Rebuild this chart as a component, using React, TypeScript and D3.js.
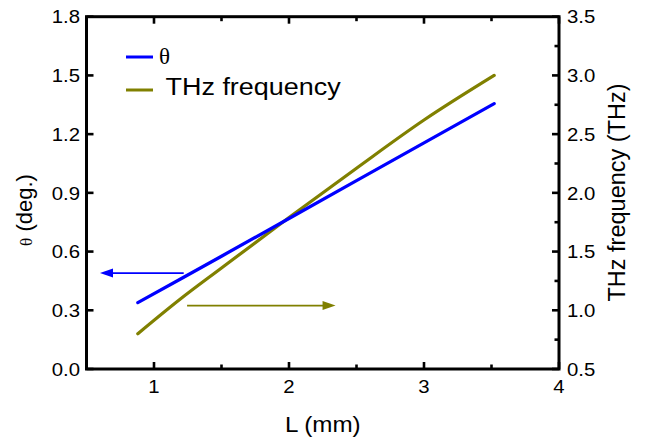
import React from "react";
import * as d3 from "d3";

const L = [0.88, 1.2, 1.5, 2.0, 2.5, 3.0, 3.52];
const theta = [0.339, 0.461, 0.576, 0.769, 0.962, 1.155, 1.356];
const freq = [0.8, 1.1, 1.36, 1.79, 2.21, 2.62, 3.0];

const xTicks = [1, 2, 3, 4];
const xMinor = [1.5, 2.5, 3.5];
const yLTicks = [0, 0.3, 0.6, 0.9, 1.2, 1.5, 1.8];
const yRTicks = [0.5, 1.0, 1.5, 2.0, 2.5, 3.0, 3.5];
const yRMinor = [0.75, 1.25, 1.75, 2.25, 2.75, 3.25];

const W = 658;
const H = 439;
const FONT = "'Liberation Sans', Arial, sans-serif";
const SERIF = "'Liberation Serif', 'Times New Roman', serif";
const BLUE = "#0000ff";
const OLIVE = "#808000";
const SX = 1.1;

function T(props: { x: number; y: number; size: number; anchor?: string; family?: string; children: React.ReactNode }) {
  const { x, y, size, anchor = "start", family = FONT, children } = props;
  return (
    <text
      transform={`translate(${x},${y}) scale(${SX},1)`}
      fontSize={size}
      fontFamily={family}
      textAnchor={anchor}
      fill="#000"
    >
      {children}
    </text>
  );
}

export default function App() {
  const left = 86.5, right = 559, top = 16.7, bottom = 369;
  const x = d3.scaleLinear().domain([0.5, 4]).range([left, right]);
  const yL = d3.scaleLinear().domain([0, 1.8]).range([bottom, top]);
  const yR = d3.scaleLinear().domain([0.5, 3.5]).range([bottom, top]);

  const idx = L.map((_, i) => i);
  const thetaLine = d3.line<number>().x((i) => x(L[i])).y((i) => yL(theta[i]))(idx) || "";
  const freqLine = d3
    .line<number>()
    .x((i) => x(L[i]))
    .y((i) => yR(freq[i]))
    .curve(d3.curveMonotoneX)(idx) || "";

  const fmt1 = d3.format(".1f");

  // arrows
  const aBlueY = yL(0.49);
  const aBlueX0 = x(1.22), aBlueX1 = x(0.6);
  const aOlY = yR(1.04);
  const aOlX0 = x(1.245), aOlX1 = x(2.345);
  const ah = 13, aw = 4.5;

  return (
    <div style={{ position: "fixed", left: 0, top: 0, width: W, height: H, background: "#fff" }}>
      <svg width={W} height={H} style={{ display: "block" }}>
        <rect width={W} height={H} fill="#fff" />
        {/* data lines */}
        <path d={freqLine} fill="none" stroke={OLIVE} strokeWidth={3.2} strokeLinecap="round" />
        <path d={thetaLine} fill="none" stroke={BLUE} strokeWidth={3.2} strokeLinecap="round" />

        {/* arrows */}
        <line x1={aBlueX0} y1={aBlueY} x2={aBlueX1 + ah - 1} y2={aBlueY} stroke={BLUE} strokeWidth={1.6} />
        <path d={`M${aBlueX1},${aBlueY} L${aBlueX1 + ah},${aBlueY - aw} L${aBlueX1 + ah},${aBlueY + aw} Z`} fill={BLUE} />
        <line x1={aOlX0} y1={aOlY} x2={aOlX1 - ah + 1} y2={aOlY} stroke={OLIVE} strokeWidth={1.6} />
        <path d={`M${aOlX1},${aOlY} L${aOlX1 - ah},${aOlY - aw} L${aOlX1 - ah},${aOlY + aw} Z`} fill={OLIVE} />

        {/* frame */}
        <rect x={left} y={top} width={right - left} height={bottom - top} fill="none" stroke="#000" strokeWidth={3} />

        {/* x ticks bottom + top */}
        {xTicks.map((t) => (
          <g key={"xt" + t}>
            <line x1={x(t)} x2={x(t)} y1={bottom} y2={bottom - 7} stroke="#000" strokeWidth={2.6} />
            <line x1={x(t)} x2={x(t)} y1={top} y2={top + 7} stroke="#000" strokeWidth={2.6} />
            <T x={x(t)} y={393} size={18.5} anchor="middle">{String(t)}</T>
          </g>
        ))}
        {xMinor.map((t) => (
          <g key={"xm" + t}>
            <line x1={x(t)} x2={x(t)} y1={bottom} y2={bottom - 4.5} stroke="#000" strokeWidth={2.6} />
            <line x1={x(t)} x2={x(t)} y1={top} y2={top + 4.5} stroke="#000" strokeWidth={2.6} />
          </g>
        ))}

        {/* left axis */}
        {yLTicks.map((t) => (
          <g key={"yl" + t}>
            <line x1={left} x2={left + 7} y1={yL(t)} y2={yL(t)} stroke="#000" strokeWidth={2.6} />
            <T x={80} y={yL(t) + 6.7} size={18.5} anchor="end">{fmt1(t)}</T>
          </g>
        ))}

        {/* right axis */}
        {yRTicks.map((t) => (
          <g key={"yr" + t}>
            <line x1={right} x2={right - 7} y1={yR(t)} y2={yR(t)} stroke="#000" strokeWidth={2.6} />
            <T x={567} y={yR(t) + 6.7} size={18.5} anchor="start">{fmt1(t)}</T>
          </g>
        ))}
        {yRMinor.map((t) => (
          <line key={"yrm" + t} x1={right} x2={right - 4.5} y1={yR(t)} y2={yR(t)} stroke="#000" strokeWidth={2.6} />
        ))}

        {/* axis titles */}
        <T x={(left + right) / 2} y={432} size={22} anchor="middle">L (mm)</T>
        <text
          transform={`translate(32,210) rotate(-90)`}
          fontSize={22}
          fontFamily={FONT}
          textAnchor="middle"
          fill="#000"
        >
          <tspan fontSize={17} fontFamily={SERIF}>θ</tspan> (deg.)
        </text>
        <text
          transform={`translate(625,192.5) rotate(-90)`}
          fontSize={23.5}
          fontFamily={FONT}
          textAnchor="middle"
          fill="#000"
        >
          THz frequency (THz)
        </text>

        {/* legend */}
        <line x1={126} x2={153} y1={57} y2={57} stroke={BLUE} strokeWidth={3} />
        <text x={159} y={64} fontSize={23} fontFamily={SERIF} fill="#000">θ</text>
        <line x1={126} x2={153} y1={90} y2={90} stroke={OLIVE} strokeWidth={3} />
        <T x={165.5} y={95} size={24.5} anchor="start">THz frequency</T>
      </svg>
    </div>
  );
}
